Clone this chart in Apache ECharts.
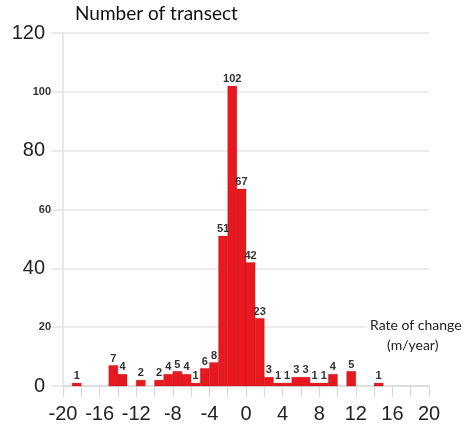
<!DOCTYPE html>
<html>
<head>
<meta charset="utf-8">
<script src="https://cdn.jsdelivr.net/npm/echarts@6/dist/echarts.min.js"></script>
<style>
html,body{margin:0;padding:0;background:#fff;}
#c{width:466px;height:426px;}
</style>
</head>
<body>
<div id="c"></div>
<script>
// Histogram bins (start of each 1 m/year bin) and number of transects
const binStarts = [-19,-15,-14,-12,-10,-9,-8,-7,-6,-5,-4,-3,-2,-1,0,1,2,3,4,5,6,7,8,9,11,14];
const counts    = [1,7,4,2,2,4,5,4,1,6,8,51,102,67,42,23,3,1,1,3,3,1,1,4,5,1];
const binWidth = 1;
const xTicks = [-20,-16,-12,-8,-4,0,4,8,12,16,20];
const yBig = [0,40,80,120];
const yTitle = 'Number of transect';
const xTitle = ['Rate of change', '(m/year)'];

const data = binStarts.map((s, i) => [s, s + binWidth, counts[i]]);

const chart = echarts.init(document.getElementById('c'), null, {renderer: 'canvas'});
chart.setOption({
  animation: false,
  backgroundColor: '#fff',
  grid: {left: 63, right: 37, top: 33, bottom: 40},
  xAxis: {
    type: 'value', min: -20, max: 20, interval: 2,
    axisLine: {show: true, onZero: false, lineStyle: {color: '#d8d8d8', width: 1.5}},
    axisTick: {show: true, length: 11, lineStyle: {color: '#d8d8d8', width: 1.2}},
    splitLine: {show: false},
    axisLabel: {
      margin: 18, color: '#222', fontFamily: 'Liberation Sans', fontSize: 20,
      formatter: v => xTicks.indexOf(v) >= 0 ? String(v) : ''
    }
  },
  yAxis: {
    type: 'value', min: 0, max: 120, interval: 20,
    axisLine: {show: true, onZero: false, lineStyle: {color: '#e0e0e0', width: 1.5}},
    axisTick: {show: true, length: 12, lineStyle: {color: '#e4e4e4', width: 1.5}},
    splitLine: {show: true, lineStyle: {color: '#e6e6e6', width: 1.5}},
    axisLabel: {
      margin: 12,
      formatter: v => yBig.indexOf(v) >= 0 ? '{b|' + v + '}' : '{s|' + v + '}',
      rich: {
        b: {fontSize: 20, fontFamily: 'Liberation Sans', color: '#222', padding: [0, 6, 0, 0]},
        s: {fontSize: 11, fontFamily: 'Liberation Sans', color: '#333', fontWeight: 'bold'}
      }
    }
  },
  series: [{
    type: 'custom',
    data: data,
    encode: {x: [0, 1], y: 2},
    z: 2,
    renderItem: function (params, api) {
      const p0 = api.coord([api.value(0), api.value(2)]);
      const p1 = api.coord([api.value(1), 0]);
      return {
        type: 'rect',
        shape: {x: p0[0], y: p0[1], width: p1[0] - p0[0], height: p1[1] - p0[1]},
        style: {fill: '#e81820', stroke: 'rgba(140,0,0,0.35)', lineWidth: 0.6},
        textContent: {
          style: {text: String(api.value(2)), font: 'bold 11px Liberation Sans', fill: '#333'}
        },
        textConfig: {position: 'top', distance: 1}
      };
    }
  }],
  graphic: [
    {type: 'text', left: 75, top: 4, z: 10, style: {text: yTitle, font: '19px Lato', fill: '#111'}},
    {type: 'text', left: 366, top: 316, z: 10, style: {text: xTitle[0], font: '14px Lato', fill: '#222',
      backgroundColor: '#fff', padding: [2, 4, 2, 4]}},
    {type: 'text', left: 387, top: 338, z: 10, style: {text: xTitle[1], font: '14px Lato', fill: '#222'}}
  ]
});
</script>
</body>
</html>
